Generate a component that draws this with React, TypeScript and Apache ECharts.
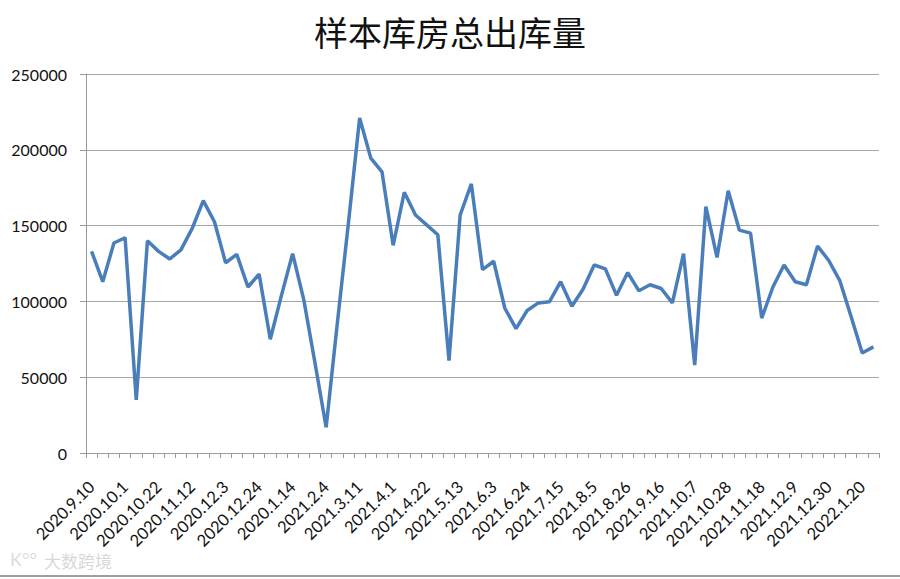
import React, { useEffect, useRef } from "react";
import * as echarts from "echarts";

const title = "样本库房总出库量";

const categories: string[] = [
  "2020.9.10", "2020.9.17", "2020.9.24", "2020.10.1", "2020.10.8", "2020.10.15",
  "2020.10.22", "2020.10.29", "2020.11.5", "2020.11.12", "2020.11.19", "2020.11.26",
  "2020.12.3", "2020.12.10", "2020.12.17", "2020.12.24", "2020.12.31", "2020.1.7",
  "2020.1.14", "2021.1.21", "2021.1.28", "2021.2.4", "2021.2.25", "2021.3.4",
  "2021.3.11", "2021.3.18", "2021.3.25", "2021.4.1", "2021.4.8", "2021.4.15",
  "2021.4.22", "2021.4.29", "2021.5.6", "2021.5.13", "2021.5.20", "2021.5.27",
  "2021.6.3", "2021.6.10", "2021.6.17", "2021.6.24", "2021.7.1", "2021.7.8",
  "2021.7.15", "2021.7.22", "2021.7.29", "2021.8.5", "2021.8.12", "2021.8.19",
  "2021.8.26", "2021.9.2", "2021.9.9", "2021.9.16", "2021.9.23", "2021.9.30",
  "2021.10.7", "2021.10.14", "2021.10.21", "2021.10.28", "2021.11.4", "2021.11.11",
  "2021.11.18", "2021.11.25", "2021.12.2", "2021.12.9", "2021.12.16", "2021.12.23",
  "2021.12.30", "2022.1.6", "2022.1.13", "2022.1.20", "2022.1.27",
];

const outbound: number[] = [
  133000, 113000, 138500, 142000, 35000, 140000,
  133000, 128000, 134000, 148000, 166500, 152500,
  125500, 131000, 109500, 118000, 75000, 104000,
  131500, 101000, 59500, 17000, 85500, 152000,
  221000, 194500, 185500, 137000, 172000, 157000,
  150500, 144000, 61000, 157000, 177500, 121000,
  126500, 95500, 82000, 94000, 99000, 99800,
  113000, 96800, 108000, 124000, 121500, 104000,
  119000, 107000, 111000, 108500, 99000, 131500,
  58000, 162500, 129000, 173000, 147000, 145000,
  89000, 109500, 124000, 113000, 111000, 136500,
  127000, 113500, 90000, 66000, 70000,
];

const yTicks = { min: 0, max: 250000, interval: 50000 };

export default function App() {
  const ref = useRef<HTMLDivElement>(null);
  useEffect(() => {
    if (!ref.current) return;
    const chart = echarts.init(ref.current, undefined, { renderer: "svg" });
    const labelFont = "Lato, 'Open Sans', sans-serif";
    chart.setOption({
      animation: false,
      backgroundColor: "#ffffff",
      title: {
        text: title,
        left: "center",
        top: 9,
        textStyle: {
          fontFamily: "'Noto Sans CJK SC', sans-serif",
          fontWeight: "normal",
          fontSize: 34,
          color: "#111111",
        },
      },
      grid: { left: 86, right: 21, top: 74, bottom: 126, containLabel: false },
      xAxis: {
        type: "category",
        data: categories,
        boundaryGap: true,
        axisLine: { show: true, lineStyle: { color: "#9a9a9a", width: 1 } },
        axisTick: { show: true, interval: 0, length: 5, lineStyle: { color: "#9a9a9a" } },
        axisLabel: {
          interval: 2,
          rotate: 45,
          margin: 31,
          fontSize: 16.5,
          fontFamily: labelFont,
          color: "#111111",
        },
        splitLine: { show: false },
      },
      yAxis: {
        type: "value",
        min: yTicks.min,
        max: yTicks.max,
        interval: yTicks.interval,
        axisLine: { show: true, lineStyle: { color: "#9a9a9a", width: 1 } },
        axisTick: { show: true, length: 6, lineStyle: { color: "#9a9a9a" } },
        axisLabel: {
          margin: 19,
          fontSize: 16,
          fontFamily: labelFont,
          color: "#111111",
          formatter: (v: number) => String(v),
        },
        splitLine: { show: true, lineStyle: { color: "#a6a6a6", width: 1 } },
      },
      series: [
        {
          type: "line",
          data: outbound,
          symbol: "none",
          lineStyle: { color: "#4a7ebb", width: 3.5 },
          itemStyle: { color: "#4a7ebb" },
        },
      ],
      graphic: [
        {
          type: "text",
          left: 44,
          top: 552,
          style: {
            text: "大数跨境",
            fontSize: 17,
            fontFamily: "'Noto Sans CJK SC', sans-serif",
            fill: "#d8d8d8",
          },
        },
        {
          type: "text",
          left: 10,
          top: 550,
          style: {
            text: "K°°",
            fontSize: 18,
            fontFamily: "Lato, sans-serif",
            fill: "#dcdcdc",
          },
        },
        {
          type: "line",
          shape: { x1: 0, y1: 576, x2: 900, y2: 576 },
          style: { stroke: "#a0a0a0", lineWidth: 2 },
        },
      ],
    });
    return () => chart.dispose();
  }, []);
  return (
    <div
      ref={ref}
      style={{ position: "absolute", left: 0, top: 0, width: 900, height: 579 }}
    />
  );
}
